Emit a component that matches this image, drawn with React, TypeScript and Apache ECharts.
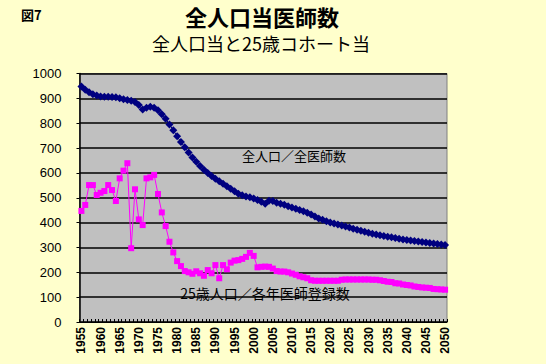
import React, { useEffect, useRef } from "react";
import * as echarts from "echarts";

const years: string[] = [];
for (let y = 1955; y <= 2050; y++) years.push(String(y));

const allPopulation = [
  948, 935, 925, 917, 911, 907, 906, 906, 905, 904,
  900, 896, 893, 890, 885, 873, 855, 862, 866, 862,
  852, 836, 818, 795, 772, 747, 724, 703, 682, 662,
  645, 628, 613, 600, 588, 576, 566, 556, 546, 536,
  526, 516, 510, 505, 502, 497, 491, 484, 476, 488,
  487, 480, 476, 472, 466, 461, 456, 451, 446, 440,
  433, 425, 417, 411, 405, 400, 396, 392, 388, 384,
  380, 375, 371, 367, 363, 359, 355, 352, 349, 346,
  343, 341, 338, 335, 332, 330, 328, 326, 324, 322,
  320, 318, 316, 314, 312, 310,
];

const cohort25 = [
  447, 471, 551, 551, 511, 520, 527, 551, 531, 487,
  578, 609, 639, 297, 534, 413, 390, 578, 582, 592,
  515, 441, 386, 323, 280, 245, 225, 205, 200, 194,
  204, 196, 186, 209, 196, 229, 176, 229, 212, 239,
  247, 249, 254, 262, 278, 266, 220, 222, 223, 222,
  215, 205, 203, 203, 200, 195, 190, 184, 180, 176,
  168, 166, 166, 166, 166, 166, 166, 166, 170, 171,
  171, 171, 171, 171, 171, 171, 170, 170, 168, 165,
  162, 161, 156, 155, 151, 149, 147, 143, 141, 139,
  138, 137, 133, 132, 131, 130,
];

const yTicks = { min: 0, max: 1000, interval: 100 };

const title = "全人口当医師数";
const subtitle = "全人口当と25歳コホート当";
const figLabel = "図7";
const label1 = "全人口／全医師数";
const label2 = "25歳人口／各年医師登録数";

export default function App() {
  const ref = useRef<HTMLDivElement>(null);
  useEffect(() => {
    document.body.style.margin = "0";
    const chart = echarts.init(ref.current!, undefined, { renderer: "svg" });
    const font = "'Liberation Sans', Arial, 'Noto Sans CJK JP', sans-serif";
    const cjk = "'Noto Sans CJK JP', sans-serif";
    chart.setOption({
      animation: false,
      backgroundColor: "#FFFFCC",
      textStyle: { fontFamily: font },
      grid: {
        left: 79.5,
        top: 73.5,
        width: 367.5,
        height: 248.5,
        show: true,
        backgroundColor: "#C0C0C0",
        borderColor: "#808080",
        borderWidth: 1,
      },
      xAxis: {
        type: "category",
        data: years,
        boundaryGap: true,
        axisLine: { show: true, lineStyle: { color: "#000", width: 1 } },
        axisTick: { show: true, inside: true, length: 3, interval: 0, lineStyle: { color: "#000" } },
        axisLabel: {
          interval: 4,
          rotate: 90,
          color: "#000",
          fontSize: 12,
          fontWeight: "bold",
          fontFamily: font,
          margin: 5,
        },
        splitLine: { show: false },
      },
      yAxis: {
        type: "value",
        min: yTicks.min,
        max: yTicks.max,
        interval: yTicks.interval,
        axisLine: { show: true, lineStyle: { color: "#000", width: 1.5 } },
        axisTick: { show: true, length: 3, lineStyle: { color: "#000" } },
        axisLabel: {
          color: "#000",
          fontSize: 13,
          fontFamily: font,
          margin: 18,
          formatter: (v: number) => String(v),
        },
        splitLine: { show: true, lineStyle: { color: "#000", width: 1.5 } },
      },
      series: [
        {
          name: label1,
          type: "line",
          data: allPopulation,
          symbol: "diamond",
          symbolSize: 8,
          showAllSymbol: true,
          itemStyle: { color: "#000080" },
          lineStyle: { color: "#000080", width: 1 },
          z: 3,
        },
        {
          name: label2,
          type: "line",
          data: cohort25,
          symbol: "rect",
          symbolSize: 6,
          showAllSymbol: true,
          itemStyle: { color: "#FF00FF" },
          lineStyle: { color: "#FF00FF", width: 1 },
          z: 2,
        },
      ],
      graphic: [
        {
          type: "text",
          left: 21,
          top: 8,
          style: { text: figLabel, fontSize: 13, fontWeight: "bold", fill: "#000", fontFamily: cjk },
        },
        {
          type: "text",
          x: 262,
          y: 16,
          style: {
            text: title,
            fontSize: 22,
            fontWeight: "bold",
            fill: "#000",
            align: "center",
            verticalAlign: "middle",
            fontFamily: cjk,
          },
        },
        {
          type: "text",
          x: 261,
          y: 43,
          style: {
            text: subtitle,
            fontSize: 18,
            fill: "#000",
            align: "center",
            verticalAlign: "middle",
            fontFamily: cjk,
          },
        },
        {
          type: "text",
          x: 294,
          y: 155,
          z: 10,
          style: {
            text: label1,
            fontSize: 13,
            fill: "#000",
            align: "center",
            verticalAlign: "middle",
            fontFamily: cjk,
          },
        },
        {
          type: "text",
          x: 265,
          y: 293,
          z: 10,
          style: {
            text: label2,
            fontSize: 14,
            fill: "#000",
            align: "center",
            verticalAlign: "middle",
            fontFamily: cjk,
          },
        },
      ],
    });
    return () => chart.dispose();
  }, []);
  return <div ref={ref} style={{ position: "absolute", left: 0, top: 0, width: 546, height: 364 }} />;
}
